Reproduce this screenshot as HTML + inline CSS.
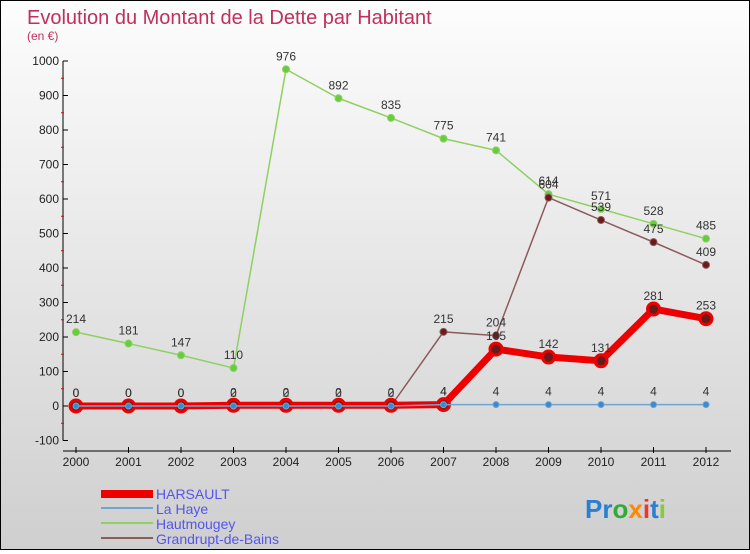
<!DOCTYPE html>
<html><head><meta charset="utf-8"><style>
body{margin:0;width:750px;height:550px;overflow:hidden;font-family:"Liberation Sans",sans-serif}
#c{position:absolute;left:0;top:0;width:748px;height:548px;border:1px solid #000;background:linear-gradient(#fdfdfd,#cfcfcf)}
</style></head><body>
<div id="c">
<svg width="748" height="548" id="s">
<text x="26" y="23" font-size="20" fill="#c0305a">Evolution du Montant de la Dette par Habitant</text>
<text x="26" y="39" font-size="12" fill="#c0305a">(en €)</text>
<g id="ax"></g><g id="ser"></g>
<g>
<rect x="100" y="489" width="52" height="8" fill="#e00"/>
<text x="155" y="498" font-size="14" fill="#5555ee">HARSAULT</text>
<rect x="100" y="506" width="52" height="2" fill="#6fa5d0"/>
<text x="155" y="513" font-size="14" fill="#5555ee">La Haye</text>
<rect x="100" y="521" width="52" height="2" fill="#8fd060"/>
<text x="155" y="528" font-size="14" fill="#5555ee">Hautmougey</text>
<rect x="100" y="536" width="52" height="2" fill="#8b5a5a"/>
<text x="155" y="543" font-size="14" fill="#5555ee">Grandrupt-de-Bains</text>
</g>
<text x="584" y="517" font-size="26" font-weight="bold"><tspan fill="#2a7fd0">Pr</tspan><tspan fill="#3a3">o</tspan><tspan fill="#f80">x</tspan><tspan fill="#e33">i</tspan><tspan fill="#2a7fd0">t</tspan><tspan fill="#8c3">i</tspan></text>
</svg></div>
<script>
const years=[2000,2001,2002,2003,2004,2005,2006,2007,2008,2009,2010,2011,2012];
const yTicks=[-100,0,100,200,300,400,500,600,700,800,900,1000];
const harsault=[0,0,0,2,2,2,2,4,165,142,131,281,253];
const laHaye=[0,0,0,0,0,0,0,4,4,4,4,4,4];
const hautmougey=[214,181,147,110,976,892,835,775,741,614,571,528,485];
const grandrupt=[0,0,0,0,0,0,0,215,204,604,539,475,409];
const NS="http://www.w3.org/2000/svg";
const X=i=>75+i*52.5, Y=v=>405-v*0.345;
function mk(t,a,p){const e=document.createElementNS(NS,t);for(const k in a)e.setAttribute(k,a[k]);p.appendChild(e);return e;}
const ax=document.getElementById('ax'), ser=document.getElementById('ser');
const yl=mk('line',{x1:62,x2:62,y1:Y(1000),y2:Y(-100),stroke:'#000'},ax);


const xl=mk('line',{x1:62,x2:730,y1:450,y2:450,stroke:'#000'},ax);


yTicks.forEach(v=>{
 mk('line',{x1:62,x2:67,y1:Y(v),y2:Y(v),stroke:'#000'},ax);
 if(v<1000)mk('line',{x1:60,x2:63,y1:Y(v+50),y2:Y(v+50),stroke:'#e00'},ax);
 const t=mk('text',{x:58,y:Y(v)+4,'font-size':12,'text-anchor':'end',fill:'#222'},ax);t.textContent=v;
 
 
});
years.forEach((y,i)=>{
 mk('line',{x1:X(i),x2:X(i),y1:446,y2:452,stroke:'#000'},ax);
 const t=mk('text',{x:X(i),y:465,'font-size':12,'text-anchor':'middle',fill:'#222'},ax);t.textContent=y;
 
 
});
function series(d,name,col,w,r,dot,lab){
 const g=mk('g',{},ser);
 
 
 mk('polyline',{points:d.map((v,i)=>X(i)+','+Y(v)).join(' '),fill:'none',stroke:col,'stroke-width':w,'stroke-linejoin':'round'},g);
 d.forEach((v,i)=>{
  const c=mk('circle',{cx:X(i),cy:Y(v),r:r,fill:dot,stroke:col,'stroke-width':r>4?3:1},g);
  
  
  if(lab){const t=mk('text',{x:X(i),y:Y(v)-9,'font-size':12,'text-anchor':'middle',fill:'#333'},g);t.textContent=v;}
 });
}
series(hautmougey,'hautmougey','#8fd060',1.5,3.5,'#6c4',true);
series(grandrupt,'grandrupt','#8b5a5a',1.5,3.5,'#6b1a1a',true);
series(harsault,'harsault','#e00',7,6,'#6b1a1a',true);
series(laHaye,'la-haye','#6fa5d0',1.5,3,'#3a8ad0',false);
laHaye.forEach((v,i)=>{if(i>=7){const t=mk('text',{x:X(i),y:Y(v)-9,'font-size':12,'text-anchor':'middle',fill:'#333'},ser);t.textContent=v;}});
</script>
</body></html>
